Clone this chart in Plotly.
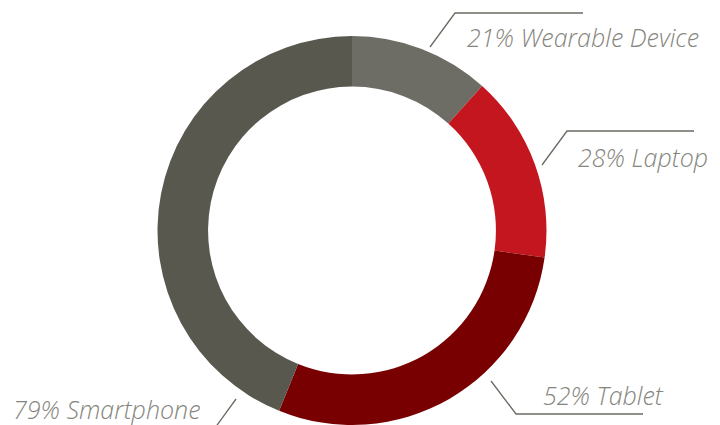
import plotly.graph_objects as go

# ---- data ----
categories = ["Wearable Device", "Laptop", "Tablet", "Smartphone"]
values = [21, 28, 52, 79]
colors = ["#6d6d65", "#c4161f", "#780000", "#59584f"]

W, H = 720, 425

def px(x):
    return x / W

def py(y):
    return (H - y) / H

fig = go.Figure()
fig.add_trace(go.Pie(
    labels=categories,
    values=values,
    hole=0.74,
    sort=False,
    direction="clockwise",
    rotation=0,
    textinfo="none",
    hoverinfo="label+value",
    marker=dict(colors=colors, line=dict(width=0)),
    domain=dict(x=[px(157), px(547)], y=[0, py(36)]),
    showlegend=False,
))

# label layout (decoration positions, in pixels)
label_layout = [
    # (polyline points, text x, text y-center)
    ([(430, 47), (455, 13), (583, 13)], 465, 37),
    ([(542, 165), (567, 131), (694, 131)], 576, 157),
    ([(491, 381), (516, 414), (643, 414)], 541, 395),
    ([(236, 399), (215, 428)], 11, 409),
]

line_color = "#6b6b63"
text_color = "#85857d"

shapes = []
annotations = []
for (pts, tx, ty), cat, val in zip(label_layout, categories, values):
    path = "M " + " L ".join(f"{px(x)},{py(y)}" for x, y in pts)
    shapes.append(dict(type="path", xref="paper", yref="paper", path=path,
                       line=dict(color=line_color, width=1.3)))
    annotations.append(dict(
        x=px(tx), y=py(ty), xref="paper", yref="paper",
        xanchor="left", yanchor="middle", showarrow=False,
        text=f"{val}% {cat}",
        font=dict(family="Open Sans", size=25, color=text_color,
                  style="italic", weight=300),
    ))

fig.update_layout(
    width=W, height=H,
    margin=dict(l=0, r=0, t=0, b=0),
    paper_bgcolor="white",
    plot_bgcolor="white",
    shapes=shapes,
    annotations=annotations,
)

fig.write_html("out.html")
